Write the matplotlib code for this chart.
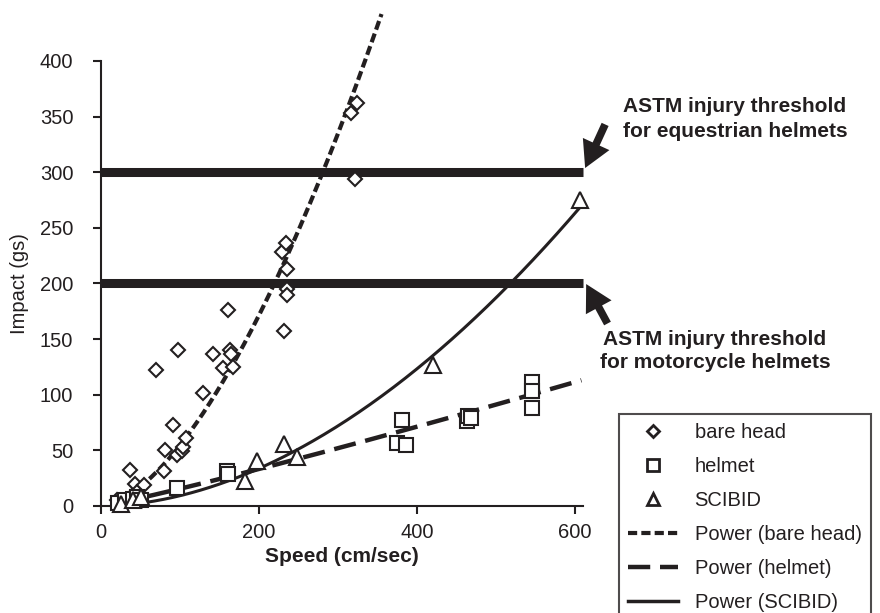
import numpy as np
import matplotlib
matplotlib.use("Agg")
from matplotlib import pyplot as plt
from matplotlib.lines import Line2D

plt.rcParams['font.family'] = ['Liberation Sans', 'DejaVu Sans']

INK = '#231f20'

# measured points (speed cm/sec, impact gs)
bare_x = [20, 25, 37, 40, 43, 45, 54, 70, 80, 81, 91, 96, 98, 102, 104, 108,
          129, 142, 155, 161, 163, 165, 167, 229, 231, 234, 235, 235, 235,
          317, 322, 324]
bare_y = [5, 3, 32, 10, 20, 13, 19, 122, 31, 50, 73, 46, 140, 49, 53, 61,
          102, 137, 124, 176, 140, 137, 125, 228, 157, 236, 213, 195, 190,
          353, 294, 362]

helmet_x = [22, 30, 40, 45, 50, 96, 159, 161, 374, 381, 386, 463, 465, 468,
            546, 546, 546]
helmet_y = [3, 5, 6, 8, 5, 16, 31, 29, 57, 77, 55, 76, 81, 79, 111, 103, 88]

scibid_x = [25, 40, 50, 182, 197, 231, 248, 420, 606]
scibid_y = [2, 5, 8, 22, 40, 56, 44, 127, 275]

# power trendlines y = a * x^b, (a, b, x_start, x_end)
bare_fit = (0.0274, 1.65, 20, 355)
helmet_fit = (0.0979, 1.1, 20, 608)
scibid_fit = (0.00168, 1.87, 20, 606)

thresholds = [200, 300]

fig = plt.figure(figsize=(8.8, 6.13), dpi=100)
ax = fig.add_axes([0.1148, 0.1746, 0.5477, 0.7259])


def trend(fit):
    a, b, x0, x1 = fit
    xs = np.linspace(x0, x1, 200)
    return xs, a * xs ** b


for t in thresholds:
    ax.plot([0, 610], [t, t], color=INK, lw=6.5, solid_capstyle='butt', clip_on=False, zorder=2)

xs, ys = trend(bare_fit)
ax.plot(xs, ys, color=INK, lw=3, ls=(0, (2.2, 1.0)), clip_on=False, zorder=3)
xs, ys = trend(helmet_fit)
ax.plot(xs, ys, color=INK, lw=3.2, ls=(0, (5, 2.2)), clip_on=False, zorder=3)
xs, ys = trend(scibid_fit)
ax.plot(xs, ys, color=INK, lw=2.2, zorder=3)

mk = dict(ls='none', mfc='white', mec=INK, mew=1.5, zorder=4, clip_on=False)
ax.plot(bare_x, bare_y, marker='D', ms=7.5, **mk)
ax.plot(helmet_x, helmet_y, marker='s', ms=9.5, **mk)
ax.plot(scibid_x, scibid_y, marker='^', ms=11, **mk)

ax.set_xlim(0, 610)
ax.set_ylim(0, 400)
ax.set_xticks([0, 200, 400, 600])
ax.set_yticks(range(0, 401, 50))
for s in ['top', 'right']:
    ax.spines[s].set_visible(False)
for s in ['left', 'bottom']:
    ax.spines[s].set_linewidth(1.5)
    ax.spines[s].set_color(INK)
ax.tick_params(direction='out', length=6, width=1.5, colors=INK, labelsize=14.5, pad=6)
ax.tick_params(axis='y', pad=14)
ax.set_xlabel('Speed (cm/sec)', fontsize=15, fontweight='bold', color=INK, labelpad=4)
ax.set_ylabel('Impact (gs)', fontsize=14.5, color=INK, labelpad=8)

# threshold notes with arrows
ax.text(735 / 880, 1 - 119 / 613, 'ASTM injury threshold\nfor equestrian helmets',
        transform=fig.transFigure, ha='center', va='center', fontsize=15,
        fontweight='bold', color=INK, linespacing=1.38)
ax.text(715 / 880, 1 - 351 / 613, 'ASTM injury threshold\nfor motorcycle helmets',
        transform=fig.transFigure, ha='center', va='center', fontsize=15,
        fontweight='bold', color=INK, linespacing=1.3)

arrow = dict(arrowstyle='simple,head_length=1.9,head_width=2.1,tail_width=0.55',
             mutation_scale=10, lw=0, color=INK, shrinkA=0, shrinkB=0)
ax.annotate('', xy=(612.7, 303.8), xytext=(638, 343), arrowprops=arrow,
            annotation_clip=False)
ax.annotate('', xy=(614, 199.5), xytext=(641, 164), arrowprops=arrow,
            annotation_clip=False)

# legend
handles = [
    Line2D([], [], ls='none', marker='D', ms=6.5, mfc='white', mec=INK, mew=2),
    Line2D([], [], ls='none', marker='s', ms=8.5, mfc='white', mec=INK, mew=2),
    Line2D([], [], ls='none', marker='^', ms=9, mfc='white', mec=INK, mew=2),
    Line2D([], [], color=INK, lw=3, ls=(0, (2.2, 1.0))),
    Line2D([], [], color=INK, lw=3.2, ls=(0, (5, 2.2))),
    Line2D([], [], color=INK, lw=2.5),
]
labels = ['bare head', 'helmet', 'SCIBID', 'Power (bare head)', 'Power (helmet)', 'Power (SCIBID)']
leg = fig.legend(handles, labels, loc='upper left', bbox_to_anchor=(619 / 880, 1 - 414 / 613),
                 fontsize=14.5, frameon=True, fancybox=False, handlelength=2.5,
                 labelspacing=0.74, borderpad=0.45, handletextpad=0.8, borderaxespad=0)
leg.get_frame().set_edgecolor(INK)
leg.get_frame().set_linewidth(1.5)
for t in leg.get_texts():
    t.set_color(INK)

fig.savefig('out.png', dpi=100)
